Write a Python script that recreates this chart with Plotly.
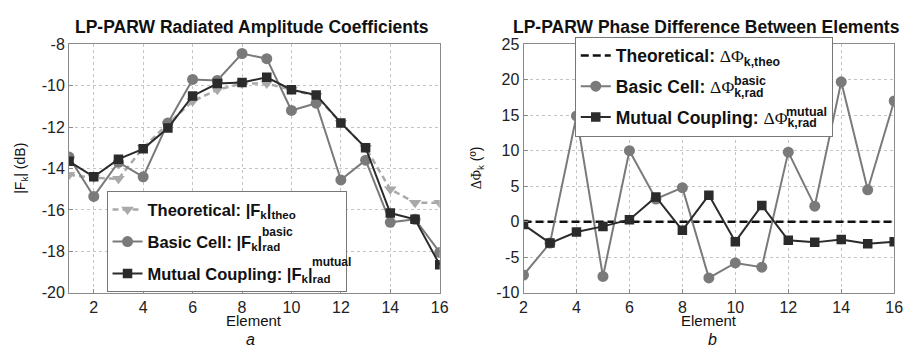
import plotly.graph_objects as go

# ---------------- data ----------------
elements_a = [1, 2, 3, 4, 5, 6, 7, 8, 9, 10, 11, 12, 13, 14, 15, 16]
theo_a = [-14.3, -14.45, -14.5, -13.0, -11.85, -10.75, -10.2, -9.9, -9.9, -10.2, -10.5, -11.8, -13.0, -15.0, -15.65, -15.65]
basic_a = [-13.45, -15.35, -13.7, -14.4, -11.8, -9.7, -9.75, -8.45, -8.7, -11.2, -10.85, -14.55, -13.6, -16.6, -16.45, -18.05]
mutual_a = [-13.65, -14.4, -13.55, -13.05, -12.05, -10.5, -9.9, -9.85, -9.6, -10.2, -10.45, -11.8, -13.0, -16.15, -16.45, -18.65]

elements_b = [2, 3, 4, 5, 6, 7, 8, 9, 10, 11, 12, 13, 14, 15, 16]
theo_b = [0, 0, 0, 0, 0, 0, 0, 0, 0, 0, 0, 0, 0, 0, 0]
basic_b = [-7.5, -3.0, 14.9, -7.7, 10.0, 3.2, 4.8, -7.9, -5.8, -6.4, 9.8, 2.2, 19.7, 4.5, 17.0]
mutual_b = [-0.4, -3.0, -1.45, -0.65, 0.3, 3.5, -1.2, 3.75, -2.8, 2.3, -2.6, -2.9, -2.5, -3.1, -2.8]

ticks_a_x = [2, 4, 6, 8, 10, 12, 14, 16]
ticks_a_y = [-20, -18, -16, -14, -12, -10, -8]
labels_a_y = ["-20", "-18", "-16", "-14", "-12", "-10", "-8"]
ticks_b_x = [2, 4, 6, 8, 10, 12, 14, 16]
ticks_b_y = [-10, -5, 0, 5, 10, 15, 20, 25]
labels_b_y = ["-10", "-5", "0", "5", "10", "15", "20", "25"]

# ---------------- style ----------------
FONT = "Liberation Sans, Arial, sans-serif"
C_THEO = "#a9a9a9"
C_BASIC = "#7a7a7a"
C_MUT = "#2b2b2b"
SERIF = "<span style='font-family:Liberation Serif;font-weight:normal'>ΔΦ</span>"
PAD = "\u00a0\u00a0"

fig = go.Figure()

fig.add_trace(go.Scatter(x=elements_a, y=theo_a, mode="lines+markers",
    name="Theoretical: |F<sub>k</sub>|<sub>theo</sub>",
    line=dict(color=C_THEO, width=2.5, dash="6px,4px"),
    marker=dict(symbol="triangle-down", size=11, color=C_THEO),
    xaxis="x", yaxis="y", legend="legend", legendgroup="a1"))
fig.add_trace(go.Scatter(x=elements_a, y=basic_a, mode="lines+markers",
    name="Basic Cell: |F<sub>k</sub>|<sub>rad</sub>",
    line=dict(color=C_BASIC, width=2),
    marker=dict(symbol="circle", size=11, color=C_BASIC),
    xaxis="x", yaxis="y", legend="legend", legendgroup="a2"))
fig.add_trace(go.Scatter(x=elements_a, y=mutual_a, mode="lines+markers",
    name="Mutual Coupling: |F<sub>k</sub>|<sub>rad</sub>" + PAD,
    line=dict(color=C_MUT, width=2),
    marker=dict(symbol="square", size=9.5, color=C_MUT),
    xaxis="x", yaxis="y", legend="legend", legendgroup="a3"))

fig.add_trace(go.Scatter(x=elements_b, y=theo_b, mode="lines",
    name="Theoretical: " + SERIF + "<sub>k,theo</sub>",
    line=dict(color="#111111", width=2.5, dash="8px,4px"),
    xaxis="x2", yaxis="y2", legend="legend2", legendgroup="b1"))
fig.add_trace(go.Scatter(x=elements_b, y=basic_b, mode="lines+markers",
    name="Basic Cell: " + SERIF + "<sub>k,rad</sub>",
    line=dict(color=C_BASIC, width=2),
    marker=dict(symbol="circle", size=11, color=C_BASIC),
    xaxis="x2", yaxis="y2", legend="legend2", legendgroup="b2"))
fig.add_trace(go.Scatter(x=elements_b, y=mutual_b, mode="lines+markers",
    name="Mutual Coupling: " + SERIF + "<sub>k,rad</sub>" + PAD,
    line=dict(color=C_MUT, width=2),
    marker=dict(symbol="square", size=9.5, color=C_MUT),
    xaxis="x2", yaxis="y2", legend="legend2", legendgroup="b3"))

axis_common = dict(showgrid=True, griddash="dot", gridcolor="#c4c4c4", gridwidth=1,
                   showline=True, mirror=True, linecolor="#8a8a8a", linewidth=1,
                   zeroline=False, ticks="inside", ticklen=4, tickcolor="#8a8a8a",
                   tickfont=dict(family=FONT, size=16, color="#222"))

legend_common = dict(bgcolor="white", bordercolor="#777", borderwidth=1,
                     xanchor="left", yanchor="top", itemwidth=30)

fig.update_layout(
    width=914, height=358, margin=dict(l=0, r=0, t=0, b=0),
    paper_bgcolor="white", plot_bgcolor="white",
    showlegend=True,
    xaxis=dict(domain=[0.0722, 0.4836], range=[1, 16], tickvals=ticks_a_x, anchor="y", **axis_common),
    yaxis=dict(domain=[0.1648, 0.8939], range=[-20, -8], tickvals=ticks_a_y, ticktext=labels_a_y, anchor="x", **axis_common),
    xaxis2=dict(domain=[0.5766, 0.988], range=[2, 16], tickvals=ticks_b_x, anchor="y2", **axis_common),
    yaxis2=dict(domain=[0.1648, 0.8939], range=[-10, 25], tickvals=ticks_b_y, ticktext=labels_b_y, anchor="x2", **axis_common),
    legend=dict(x=104 / 914, y=1 - 192.5 / 358, tracegroupgap=7.5,
                font=dict(family=FONT, size=16.5, color="#111", weight="bold"), **legend_common),
    legend2=dict(x=579 / 914, y=1 - 30 / 358, tracegroupgap=5,
                 font=dict(family=FONT, size=17.5, color="#111", weight="bold"), **legend_common),
)

ann = []
def A(text, x, y, size=14, bold=False, angle=0, italic=False, xanchor="center"):
    t = text
    if bold:
        t = "<b>" + t + "</b>"
    if italic:
        t = "<i>" + t + "</i>"
    ann.append(dict(text=t, x=x / 914, y=1 - y / 358, xref="paper", yref="paper",
                    showarrow=False, textangle=angle, xanchor=xanchor, yanchor="middle",
                    font=dict(family=FONT, size=size, color="#111")))

A("LP-PARW Radiated Amplitude Coefficients", 252, 20, size=17.5, bold=True)
A("LP-PARW Phase Difference Between Elements", 713, 20, size=17.5, bold=True)
A("Element", 254, 328, size=15)
A("Element", 715, 328, size=15)
A("a", 250, 348, size=16, italic=True)
A("b", 719, 348, size=16, italic=True)
A("|F<sub>k</sub>| (dB)", 17, 168, size=14, angle=-90)
A(SERIF + "<sub>k</sub> (º)", 480, 168, size=14, angle=-90)
# stacked superscripts of the legend labels
A("basic", 260, 235, size=12, bold=True, xanchor="left")
A("mutual", 310, 267, size=12, bold=True, xanchor="left")
A("basic", 738, 77, size=12.5, bold=True, xanchor="left")
A("mutual", 791, 109, size=12.5, bold=True, xanchor="left")

fig.update_layout(annotations=ann)
fig.write_html("out.html")
